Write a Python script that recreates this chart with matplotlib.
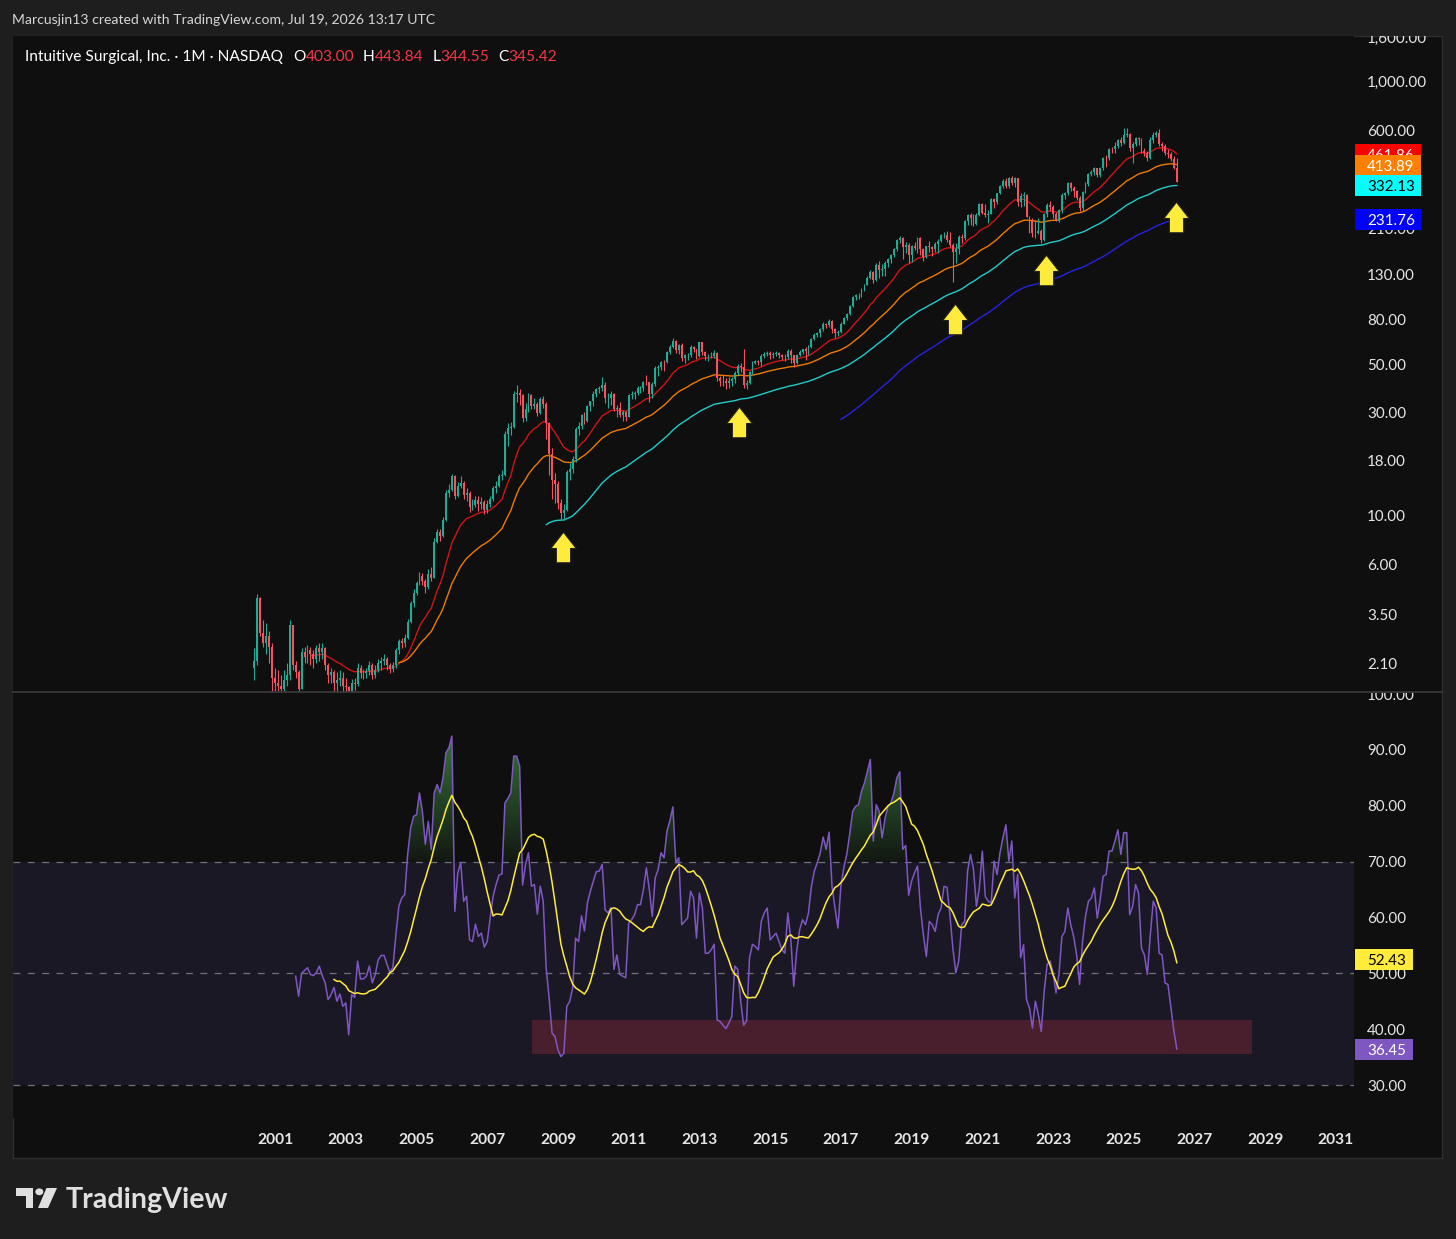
import numpy as np
import matplotlib
matplotlib.use("Agg")
import matplotlib.pyplot as plt
from matplotlib.path import Path
from matplotlib.patches import Rectangle, Circle, Polygon
from matplotlib.lines import Line2D
from matplotlib.transforms import Bbox
from matplotlib.ticker import FixedLocator, FuncFormatter, NullLocator, NullFormatter

plt.rcParams['font.family'] = ['Lato', 'DejaVu Sans']

# ---------------------------------------------------------------- data
first_year, first_month = 2000, 6          # first monthly candle: June 2000
first_open = 2.00

closes = [
    2.15, 4.20, 2.90, 2.60, 2.80, 2.50, 1.80,                                   # 2000 (Jun-Dec)
    1.70, 1.65, 1.60, 1.75, 1.85, 3.15, 2.05, 1.90, 1.60, 2.35, 2.25, 2.40,     # 2001
    2.30, 2.20, 2.45, 2.35, 2.45, 2.05, 1.85, 1.90, 1.70, 1.75, 1.80, 1.65,     # 2002
    1.62, 1.52, 1.70, 1.68, 2.00, 1.88, 1.88, 1.92, 2.05, 1.85, 1.95, 2.10,     # 2003
    2.15, 2.20, 2.05, 1.98, 2.05, 2.40, 2.65, 2.60, 2.75, 3.25, 3.95, 4.40,     # 2004
    4.90, 5.30, 5.00, 4.70, 5.40, 5.20, 7.60, 8.40, 8.10, 9.60, 12.8, 13.2,     # 2005
    15.3, 12.4, 13.8, 14.2, 12.5, 12.7, 11.0, 11.2, 11.8, 11.4, 11.6, 10.7,     # 2006
    11.3, 12.0, 13.5, 13.7, 15.2, 15.4, 23.8, 25.5, 25.6, 36.3, 36.9, 35.9,     # 2007
    28.3, 31.2, 36.0, 32.1, 32.7, 29.9, 34.6, 32.8, 26.8, 19.3, 14.7, 14.1,     # 2008
    11.5, 10.3, 10.6, 15.9, 16.5, 18.2, 25.2, 26.0, 29.1, 27.4, 32.1, 33.7,     # 2009
    36.4, 38.6, 38.7, 40.1, 34.9, 35.1, 36.4, 31.0, 31.5, 29.2, 30.0, 28.6,     # 2010
    35.9, 36.3, 37.0, 38.8, 38.9, 41.3, 41.2, 36.6, 40.5, 48.2, 48.4, 51.4,     # 2011
    51.1, 56.9, 60.2, 64.3, 58.1, 61.6, 53.6, 54.9, 55.1, 60.2, 58.7, 54.5,     # 2012
    63.0, 56.9, 54.6, 54.8, 54.8, 56.3, 43.1, 42.0, 41.8, 40.9, 41.8, 42.7,     # 2013
    45.5, 49.3, 48.7, 40.1, 41.0, 45.8, 50.8, 51.8, 51.3, 54.5, 56.0, 56.5,     # 2014
    54.9, 55.6, 56.1, 55.1, 53.9, 53.9, 57.5, 55.0, 50.5, 55.2, 57.0, 58.5,     # 2015
    57.5, 60.0, 65.0, 68.0, 69.5, 72.5, 76.5, 75.5, 79.5, 72.5, 70.0, 70.4,     # 2016
    76.9, 81.8, 85.2, 92.9, 102.0, 103.9, 104.2, 111.4, 116.2, 125.0, 133.0, 121.7,  # 2017
    143.9, 136.5, 137.7, 147.0, 153.1, 159.5, 169.0, 187.0, 191.3, 174.0, 176.6, 159.7,  # 2018
    174.6, 171.2, 190.2, 170.2, 155.3, 174.9, 173.0, 170.0, 179.9, 184.4, 197.1, 197.1,  # 2019
    187.0, 177.4, 165.1, 170.3, 193.3, 189.9, 228.5, 243.2, 236.6, 222.3, 242.3, 272.7,  # 2020
    249.2, 243.5, 246.3, 288.3, 280.5, 306.5, 330.6, 351.2, 331.4, 361.1, 341.4, 359.3,  # 2021
    279.4, 297.5, 301.7, 239.3, 227.6, 200.7, 201.1, 205.7, 187.4, 246.5, 270.2, 265.4,  # 2022
    245.7, 229.5, 255.5, 301.2, 307.6, 341.9, 324.4, 312.7, 292.3, 262.2, 310.8, 337.4,  # 2023
    378.2, 385.6, 399.1, 370.7, 402.1, 444.8, 444.6, 492.6, 491.2, 503.9, 541.6, 521.9,  # 2024
    569.0, 573.0, 495.0, 516.0, 552.0, 543.0, 481.0, 470.0, 447.0, 540.0, 570.0, 580.0,  # 2025
    515.0, 505.0, 470.0, 465.0, 440.0, 403.00, 345.42,                                # 2026 (Jan-Jul)
]

highs = [
    2.45, 4.35, 4.25, 3.30, 3.20, 2.95, 2.60,
    2.00, 1.95, 1.85, 1.95, 2.10, 3.30, 3.10, 2.15, 1.95, 2.45, 2.50, 2.55,
    2.50, 2.40, 2.55, 2.60, 2.60, 2.50, 2.10, 2.00, 1.95, 1.90, 1.95, 1.90,
    1.80, 1.65, 1.78, 1.80, 2.10, 2.05, 1.98, 2.00, 2.15, 2.10, 2.05, 2.20,
    2.25, 2.30, 2.25, 2.10, 2.12, 2.45, 2.70, 2.75, 2.85, 3.35, 4.05, 4.60,
    5.00, 5.50, 5.45, 5.10, 5.70, 5.80, 7.90, 8.70, 8.70, 9.90, 13.2, 14.0,
    15.6, 15.5, 14.3, 15.2, 14.5, 13.5, 13.0, 12.0, 12.3, 12.3, 12.2, 11.9,
    11.8, 12.3, 13.8, 14.5, 15.6, 16.2, 24.5, 26.8, 27.0, 37.5, 40.0, 38.5,
    36.5, 33.0, 36.8, 36.5, 35.0, 33.5, 35.5, 35.8, 33.5, 27.0, 20.5, 15.8,
    14.5, 12.0, 11.3, 16.2, 17.5, 18.8, 25.8, 27.0, 29.5, 30.0, 32.5, 34.0,
    37.5, 39.0, 39.5, 43.5, 41.5, 37.0, 37.5, 36.8, 32.5, 33.5, 30.8, 30.5,
    36.5, 37.5, 37.5, 39.5, 39.8, 41.8, 44.5, 41.5, 41.5, 49.0, 49.5, 52.0,
    52.5, 57.5, 61.0, 66.0, 64.5, 62.0, 62.5, 55.5, 56.5, 61.0, 60.5, 59.0,
    63.5, 63.5, 57.5, 56.0, 57.0, 58.0, 57.0, 44.0, 44.5, 43.0, 43.5, 43.5,
    46.5, 50.0, 50.5, 59.0, 42.5, 46.5, 51.5, 52.5, 52.5, 55.5, 57.0, 57.5,
    57.5, 57.0, 57.5, 57.0, 56.0, 55.5, 59.0, 58.5, 55.0, 56.0, 58.0, 59.0,
    60.0, 61.0, 66.0, 69.5, 70.5, 73.5, 78.0, 77.5, 81.0, 80.0, 73.5, 72.0,
    78.5, 82.5, 86.0, 94.0, 103.0, 105.5, 106.0, 112.0, 117.0, 128.0, 136.0, 135.0,
    147.0, 150.0, 145.5, 150.0, 155.0, 161.0, 172.0, 188.0, 194.0, 193.5, 183.0, 180.0,
    176.5, 183.0, 193.0, 193.5, 172.0, 176.0, 184.5, 175.0, 183.0, 188.0, 200.0, 203.0,
    206.0, 203.0, 180.0, 180.0, 196.0, 200.0, 231.0, 246.0, 250.0, 246.0, 249.0, 276.0,
    277.0, 274.0, 256.0, 293.0, 293.0, 308.0, 335.0, 355.0, 360.0, 365.0, 369.0, 366.0,
    361.0, 309.0, 311.0, 305.0, 242.0, 236.0, 232.0, 235.0, 211.0, 250.0, 276.0, 283.0,
    270.0, 252.0, 259.0, 307.0, 310.0, 346.0, 344.0, 330.0, 316.0, 299.0, 314.0, 344.0,
    381.0, 392.0, 405.0, 401.0, 406.0, 450.0, 462.0, 495.0, 499.0, 528.0, 545.0, 555.0,
    616.0, 610.0, 580.0, 530.0, 560.0, 555.0, 550.0, 495.0, 480.0, 555.0, 585.0, 592.0,
    605.0, 530.0, 515.0, 490.0, 475.0, 455.0, 443.84,
]

lows = [
    1.75, 2.05, 2.80, 2.50, 2.30, 2.10, 1.55,
    1.55, 1.55, 1.50, 1.55, 1.65, 1.75, 1.95, 1.80, 1.52, 1.60, 2.10, 2.10,
    2.05, 2.00, 2.10, 2.15, 2.20, 1.95, 1.70, 1.70, 1.55, 1.55, 1.65, 1.55,
    1.55, 1.45, 1.50, 1.58, 1.65, 1.80, 1.78, 1.80, 1.85, 1.78, 1.80, 1.90,
    1.95, 2.05, 1.95, 1.88, 1.90, 2.00, 2.30, 2.45, 2.50, 2.70, 3.20, 3.80,
    4.30, 4.80, 4.80, 4.40, 4.60, 5.00, 5.20, 7.50, 7.70, 8.00, 9.50, 12.2,
    13.0, 12.0, 12.2, 13.4, 12.0, 11.7, 10.4, 10.6, 11.0, 10.5, 10.8, 10.2,
    10.3, 11.0, 11.7, 12.8, 13.6, 14.6, 15.3, 21.0, 23.5, 25.3, 33.5, 32.5,
    27.0, 27.5, 30.0, 31.0, 31.0, 29.0, 29.5, 31.5, 22.5, 15.5, 12.0, 11.5,
    10.8, 9.7, 9.6, 10.5, 14.6, 15.8, 17.8, 23.6, 25.2, 26.4, 27.0, 30.3,
    32.0, 35.5, 37.0, 37.5, 33.0, 31.5, 32.5, 30.5, 28.5, 28.5, 27.5, 27.5,
    28.5, 34.5, 34.5, 36.0, 37.0, 37.5, 40.0, 33.5, 35.0, 39.5, 44.0, 47.0,
    46.5, 50.5, 56.0, 59.5, 56.5, 55.5, 52.0, 50.5, 52.5, 54.0, 57.0, 53.0,
    54.0, 55.0, 52.5, 51.5, 53.5, 53.5, 42.0, 39.5, 39.5, 38.5, 39.0, 39.5,
    41.0, 44.5, 46.0, 39.0, 38.5, 40.5, 45.0, 50.0, 49.5, 49.0, 53.5, 54.5,
    53.0, 53.5, 54.5, 53.5, 52.5, 52.0, 53.0, 50.5, 48.5, 50.0, 54.5, 56.0,
    52.5, 55.0, 59.5, 64.5, 66.5, 67.0, 71.5, 73.5, 74.5, 70.0, 66.0, 67.5,
    69.5, 76.5, 80.0, 84.5, 92.0, 99.0, 99.5, 102.0, 109.0, 116.0, 123.0, 119.0,
    121.0, 125.0, 128.0, 128.0, 141.0, 147.0, 156.0, 166.0, 181.0, 153.0, 162.0, 147.0,
    148.5, 168.0, 163.0, 160.0, 150.0, 154.0, 165.0, 158.0, 164.5, 162.0, 183.0, 190.0,
    183.0, 173.0, 120.0, 147.0, 161.0, 180.0, 187.0, 220.0, 220.0, 216.0, 218.0, 241.0,
    245.0, 238.0, 224.0, 246.0, 261.0, 275.0, 303.0, 325.0, 326.0, 324.0, 336.0, 328.0,
    267.0, 266.0, 267.0, 238.0, 202.0, 192.0, 191.0, 200.0, 180.0, 185.0, 239.0, 255.0,
    236.0, 228.0, 225.0, 249.0, 288.0, 302.0, 315.0, 296.0, 287.0, 254.0, 255.0, 306.0,
    332.0, 370.0, 374.0, 364.0, 366.0, 392.0, 405.0, 436.0, 470.0, 470.0, 496.0, 508.0,
    520.0, 555.0, 480.0, 425.0, 505.0, 510.0, 470.0, 455.0, 430.0, 440.0, 525.0, 555.0,
    505.0, 480.0, 460.0, 445.0, 430.0, 395.0, 344.55,
]

# RSI(14) of the monthly candles (first value = 15th candle)
rsi_values = [
    49.5, 45.9, 50.0, 50.5, 51.0, 49.8, 49.6, 50.1, 51.3, 49.6,
    48.3, 45.3, 46.2, 47.5, 45.0, 46.3, 44.1, 44.7, 39.0, 46.2,
    45.7, 52.2, 49.0, 49.0, 49.5, 51.3, 48.3, 49.8, 52.4, 53.2,
    53.2, 51.6, 50.1, 51.1, 56.9, 62.0, 63.5, 64.1, 71.3, 76.0,
    78.1, 78.4, 82.3, 79.0, 73.1, 77.2, 72.2, 82.3, 83.8, 82.3,
    85.0, 89.5, 90.4, 92.5, 61.1, 68.0, 69.8, 62.9, 63.8, 56.0,
    55.7, 58.8, 56.6, 57.2, 54.7, 55.7, 59.9, 63.8, 65.9, 67.6,
    67.8, 80.5, 81.3, 82.3, 88.9, 88.9, 87.1, 65.8, 69.5, 71.6,
    65.6, 65.9, 60.6, 65.6, 62.9, 51.0, 45.6, 39.3, 38.7, 36.3,
    35.1, 35.7, 44.1, 45.0, 47.4, 56.3, 55.7, 60.3, 57.6, 62.6,
    64.7, 66.5, 68.2, 68.3, 69.5, 61.4, 60.8, 61.8, 50.7, 53.3,
    49.8, 49.5, 49.2, 59.0, 59.6, 60.5, 62.3, 62.3, 65.0, 68.9,
    65.0, 60.2, 67.1, 68.6, 71.6, 70.7, 75.5, 77.4, 79.8, 69.8,
    70.7, 58.7, 59.3, 59.9, 64.7, 63.5, 56.3, 64.4, 61.7, 53.6,
    53.6, 54.2, 55.2, 41.7, 41.4, 40.7, 40.1, 41.1, 42.3, 51.3,
    50.7, 45.0, 40.7, 41.5, 52.8, 55.2, 54.8, 54.2, 59.3, 60.8,
    61.7, 56.0, 56.6, 57.2, 55.7, 54.2, 53.6, 60.8, 56.3, 47.7,
    53.9, 57.8, 59.6, 58.7, 60.8, 65.6, 68.3, 69.8, 71.6, 74.4,
    72.2, 75.3, 65.6, 61.7, 58.1, 65.6, 68.9, 71.3, 74.9, 79.0,
    79.9, 80.2, 82.6, 84.1, 86.2, 88.3, 73.7, 80.2, 79.0, 74.3,
    77.8, 79.9, 80.5, 82.3, 85.0, 86.1, 72.2, 72.9, 64.0, 66.5,
    68.0, 69.2, 61.7, 56.9, 53.0, 59.3, 58.7, 57.5, 60.5, 61.7,
    65.6, 65.4, 60.5, 54.5, 50.1, 52.2, 58.7, 59.3, 68.3, 71.3,
    68.6, 62.0, 65.3, 71.9, 63.8, 62.9, 62.6, 70.1, 67.7, 71.6,
    74.3, 76.6, 70.1, 73.7, 63.5, 67.7, 52.8, 55.1, 45.3, 43.8,
    40.2, 45.0, 42.6, 39.6, 46.8, 51.6, 52.2, 50.1, 46.5, 49.8,
    56.6, 57.5, 61.7, 58.7, 56.6, 53.3, 48.0, 55.7, 60.2, 62.9,
    63.5, 65.3, 59.9, 63.2, 67.4, 67.7, 71.9, 71.9, 73.7, 75.7,
    71.3, 75.2, 75.2, 60.5, 62.0, 65.9, 64.4, 54.5, 53.3, 49.8,
    56.9, 62.9, 61.7, 53.6, 53.3, 48.3, 48.0, 43.8, 39.7, 36.45,
]

ema_lengths = [20, 50, 100, 200]
ema_label_values = [461.86, 413.89, 332.13, 231.76]
rsi_length, signal_length = 14, 14
rsi_label_values = [52.43, 36.45]          # signal, RSI

price_ticks = [2.1, 3.5, 6, 10, 18, 30, 50, 80, 130, 210, 350, 600, 1000, 1600]
rsi_ticks = [30, 40, 50, 60, 70, 80, 90, 100]
year_ticks = list(range(2001, 2032, 2))

arrow_dates = [2009.14, 2014.12, 2020.23, 2022.80, 2026.47]
arrow_prices = [7.2, 27.1, 80.4, 136.0, 239.0]

zone_dates = (2008.28, 2028.62)
zone_rsi = (35.5, 41.7)

title_text = "Intuitive Surgical, Inc. \u00b7 1M \u00b7 NASDAQ"
credit_text = "Marcusjin13 created with TradingView.com, Jul 19, 2026 13:17 UTC"

# ---------------------------------------------------------------- style
BG_OUT = '#1e1e1e'
BG = '#0f0f0f'
UP, DOWN = '#22ab94', '#f7525f'
TXT = '#e6e6e6'
ema_line_colors = ['#d01414', '#ef7a00', '#22cccc', '#2424e0']
ema_box_colors = ['#ff0000', '#ff7f00', '#00ffff', '#0000ff']
ema_box_text = ['white', 'white', 'black', 'white']
RSI_C, SIG_C = '#7e57c2', '#ffeb3b'

W, H = 1456, 1239
fig = plt.figure(figsize=(W / 100, H / 100), dpi=100)
fig.patch.set_facecolor(BG_OUT)


def fx(px):
    return px / W


def fy(py):
    return 1 - py / H


# chart container
fig.add_artist(Rectangle((fx(13), fy(1158)), fx(1442) - fx(13), fy(36) - fy(1158),
                         transform=fig.transFigure, facecolor=BG, edgecolor='#2e2e2e',
                         lw=1.0, zorder=-5))

L_PX, R_PX = 13, 1354
ax = fig.add_axes([fx(L_PX), fy(692), fx(R_PX) - fx(L_PX), fy(36) - fy(692)])
axr = fig.add_axes([fx(L_PX), fy(1118), fx(R_PX) - fx(L_PX), fy(693) - fy(1118)])
for a in (ax, axr):
    a.set_facecolor(BG)
    for s in a.spines.values():
        s.set_visible(False)

XLIM = (1993.59, 2031.51)

# ---------------------------------------------------------------- price pane
c = np.array(closes, dtype=float)
h = np.array(highs, dtype=float)
lo = np.array(lows, dtype=float)
n = len(c)
o = np.concatenate([[first_open], c[:-1]])
xd = first_year + (first_month - 1) / 12 + np.arange(n) / 12

up = c >= o
cols = np.where(up, UP, DOWN)
b_lo = np.minimum(o, c)
b_hi = np.maximum(o, c)
ax.vlines(xd, lo, h, colors=cols, lw=0.8, zorder=3)
ax.bar(xd, b_hi - b_lo, bottom=b_lo, width=0.64 / 12, color=cols, linewidth=0, zorder=4)


def ema(values, length):
    out = np.full(len(values), np.nan)
    if len(values) < length:
        return out
    out[length - 1] = values[:length].mean()
    alpha = 2 / (length + 1)
    for t in range(length, len(values)):
        out[t] = alpha * values[t] + (1 - alpha) * out[t - 1]
    return out


for L, col in zip(ema_lengths, ema_line_colors):
    ax.plot(xd, ema(c, L), color=col, lw=1.0, zorder=2, solid_capstyle='round')

arrow_path = Path([(0, 0.5), (0.417, -0.033), (0.233, -0.033), (0.233, -0.5),
                   (-0.233, -0.5), (-0.233, -0.033), (-0.417, -0.033), (0, 0.5)],
                  [Path.MOVETO] + [Path.LINETO] * 6 + [Path.CLOSEPOLY])
ax.scatter(arrow_dates, arrow_prices, marker=arrow_path, s=22 ** 2,
           facecolor='#ffeb3b', edgecolor='#222222', linewidths=0.8, zorder=6)

ax.set_yscale('log')
ax.set_xlim(*XLIM)
ax.set_ylim(1.544, 1627)
ax.yaxis.tick_right()
ax.yaxis.set_major_locator(FixedLocator(price_ticks))
ax.yaxis.set_minor_locator(NullLocator())
ax.yaxis.set_major_formatter(FuncFormatter(lambda v, p: f"{v:,.2f}"))
ax.yaxis.set_minor_formatter(NullFormatter())
ax.tick_params(axis='y', which='both', length=0, pad=9.4, labelsize=10.9, labelcolor=TXT)
ax.tick_params(axis='x', which='both', length=0, labelbottom=False)

# ---------------------------------------------------------------- RSI pane
r = np.array(rsi_values, dtype=float)
xr = xd[n - len(r):]
sig = np.convolve(r, np.ones(signal_length) / signal_length, mode='valid')
xs = xr[signal_length - 1:]

axr.set_xlim(*XLIM)
axr.set_ylim(24.1, 100.2)
axr.axhspan(30, 70, color='#1b1826', zorder=0, lw=0)
for lvl in (70, 50, 30):
    axr.axhline(lvl, color='#6f727c', lw=0.9, dashes=(5.5, 6), zorder=1)

axr.add_patch(Rectangle((zone_dates[0], zone_rsi[0]), zone_dates[1] - zone_dates[0],
                        zone_rsi[1] - zone_rsi[0], facecolor='#4a1f2d', edgecolor='none', zorder=2))

# overbought gradient fill
poly = axr.fill_between(xr, 70, r, where=r > 70, interpolate=True,
                        facecolor='none', edgecolor='none')
clip = Path.make_compound_path(*poly.get_paths())
grad = np.zeros((256, 1, 4))
grad[..., 0] = 76 / 255
grad[..., 1] = 175 / 255
grad[..., 2] = 80 / 255
grad[:, 0, 3] = np.linspace(0.06, 0.8, 256)
im = axr.imshow(grad, extent=[xr[0], xr[-1], 70, 100], origin='lower', aspect='auto',
                zorder=3, interpolation='bilinear')
im.set_clip_path(clip, transform=axr.transData)

axr.plot(xr, r, color=RSI_C, lw=1.1, zorder=4)
axr.plot(xs, sig, color=SIG_C, lw=1.1, zorder=5)

axr.set_xlim(*XLIM)
axr.set_ylim(24.1, 100.2)
axr.yaxis.tick_right()
axr.yaxis.set_major_locator(FixedLocator(rsi_ticks))
axr.yaxis.set_major_formatter(FuncFormatter(lambda v, p: f"{v:.2f}"))
axr.tick_params(axis='y', length=0, pad=9.4, labelsize=10.9, labelcolor=TXT)
axr.set_xticks(year_ticks)
axr.set_xticklabels([str(y) for y in year_ticks])
axr.tick_params(axis='x', length=0, pad=11, labelsize=11.2, labelcolor=TXT)
for lab in axr.get_xticklabels():
    lab.set_fontweight('bold')

# clip axis labels to their pane like the reference
price_clip = Bbox.from_extents(0, H - 692, W, H - 36)
rsi_clip = Bbox.from_extents(0, H - 1158, W, H - 693)
for lab in ax.yaxis.get_majorticklabels():
    lab.set_clip_box(price_clip)
    lab.set_clip_on(True)
for lab in axr.yaxis.get_majorticklabels():
    lab.set_clip_box(rsi_clip)
    lab.set_clip_on(True)

# ---------------------------------------------------------------- value boxes on the scale
zc = [10]


def value_box(axis, val, fc, tc, x1):
    yd = axis.transData.transform((XLIM[0], val))[1]
    hbox = 21
    fig.add_artist(Rectangle((fx(1355), (yd - hbox / 2) / H), fx(x1) - fx(1355), hbox / H,
                             transform=fig.transFigure, facecolor=fc, edgecolor='none',
                             zorder=zc[0]))
    fig.text(fx(1367), yd / H, f"{val:.2f}", color=tc, fontsize=10.9, ha='left',
             va='center_baseline', zorder=zc[0] + 1)
    zc[0] += 2


for val, fc, tc in zip(ema_label_values, ema_box_colors, ema_box_text):
    value_box(ax, val, fc, tc, 1421)
value_box(axr, rsi_label_values[0], SIG_C, 'black', 1413)
value_box(axr, rsi_label_values[1], RSI_C, 'white', 1413)

# pane separator
fig.add_artist(Line2D([fx(13), fx(1442)], [fy(692.5), fy(692.5)], transform=fig.transFigure,
                      color='#383838', lw=1.3, zorder=20))

# ---------------------------------------------------------------- texts
fig.text(fx(12), fy(20), credit_text, color='#d6d6d6', fontsize=10.1, ha='left', va='center')

renderer = fig.canvas.get_renderer()
pieces = [(title_text, 'white', 10),
          ("O", 'white', 0), (f"{o[-1]:.2f}", '#f23645', 9),
          ("H", 'white', 0), (f"{h[-1]:.2f}", '#f23645', 9),
          ("L", 'white', 0), (f"{lo[-1]:.2f}", '#f23645', 9),
          ("C", 'white', 0), (f"{c[-1]:.2f}", '#f23645', 9)]
xpos = 25
for s, colr, gap in pieces:
    t = fig.text(fx(xpos), fy(57), s, color=colr, fontsize=11.2, ha='left', va='center',
                 zorder=30)
    bb = t.get_window_extent(renderer)
    xpos = bb.x1 + gap

# TradingView logo
def P(x, y):
    return (fx(x), fy(y))


fig.add_artist(Polygon([P(16, 1188), P(33, 1188), P(33, 1208), P(26, 1208), P(26, 1196),
                        P(16, 1196)], closed=True, transform=fig.transFigure,
                       facecolor='#e0e0e0', edgecolor='none'))
fig.add_artist(Polygon([P(46.5, 1188), P(57, 1188), P(48, 1208), P(38, 1208)], closed=True,
                       transform=fig.transFigure, facecolor='#e0e0e0', edgecolor='none'))
fig.add_artist(Circle(P(39.3, 1191.8), radius=4.0 / W, transform=fig.transFigure,
                      facecolor='#e0e0e0', edgecolor='none'))
fig.text(fx(66), fy(1208), "TradingView", color='#e0e0e0', fontsize=20.6,
         fontweight='bold', ha='left', va='baseline')

fig.savefig("out.png", dpi=100, facecolor=fig.get_facecolor())
